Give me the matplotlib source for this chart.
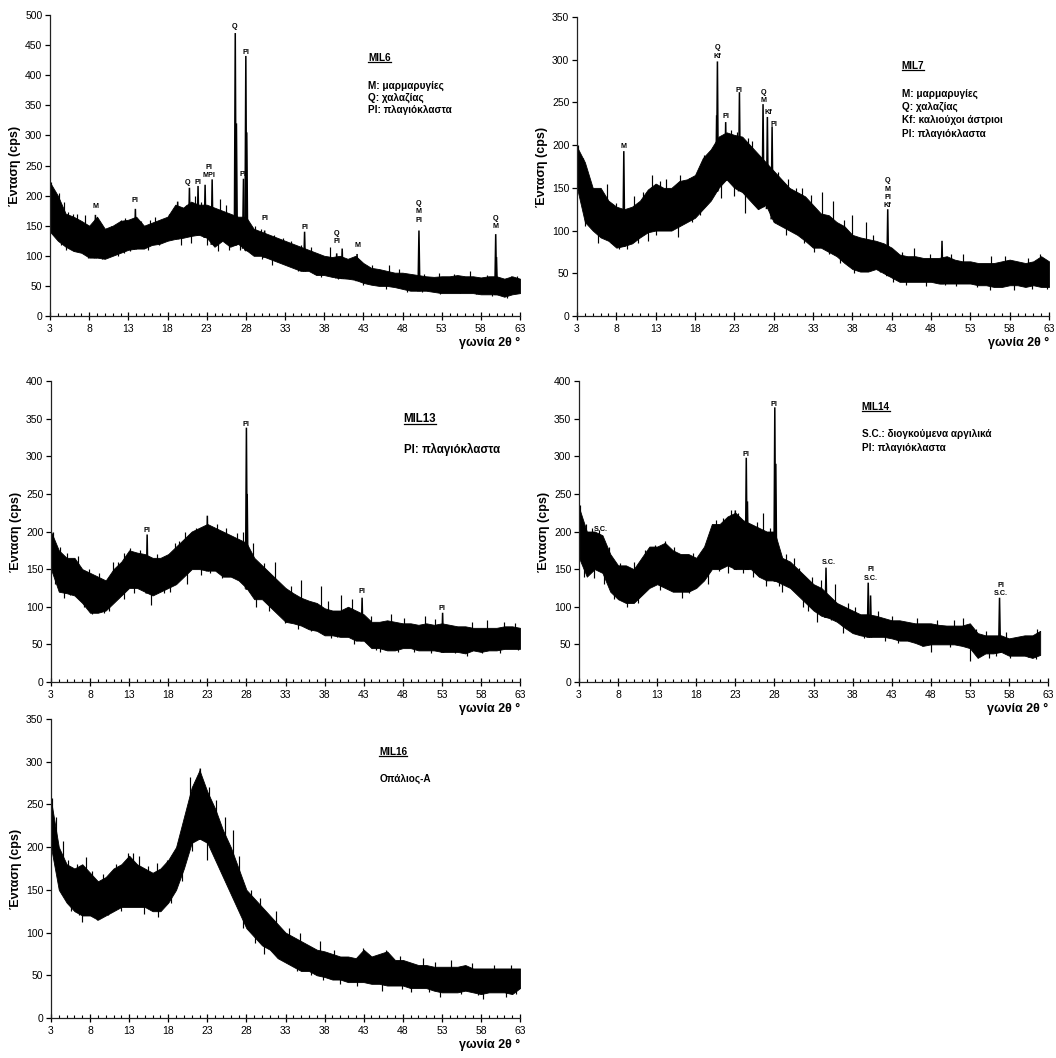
import numpy as np
import matplotlib
matplotlib.use("Agg")
import matplotlib.pyplot as plt
from matplotlib.ticker import MultipleLocator, FixedLocator
from matplotlib.lines import Line2D

plt.rcParams['font.family'] = ['Liberation Sans', 'DejaVu Sans']

# ---------------- DATA ----------------
# envelope of the noisy diffractogram band: x (2theta), upper and lower intensity (cps)
x_env = list(range(3, 64))

mil6_upper = [222, 200, 170, 165, 158, 150, 165, 145, 150, 158, 160, 165, 150, 155, 160, 165, 185, 180, 190, 185,
              185, 180, 175, 170, 165, 165, 145, 140, 135, 130, 125, 120, 115, 110, 105, 100, 98, 100, 95, 100,
              88, 80, 78, 75, 72, 72, 70, 68, 66, 65, 66, 66, 68, 66, 66, 64, 66, 66, 62, 66, 62]
mil6_lower = [140, 125, 115, 108, 105, 97, 97, 95, 100, 105, 110, 112, 112, 118, 120, 125, 128, 130, 133, 135,
              130, 115, 125, 115, 120, 110, 100, 100, 95, 90, 85, 80, 75, 75, 68, 68, 65, 63, 62, 60,
              55, 52, 50, 50, 48, 45, 42, 42, 42, 40, 38, 38, 38, 38, 38, 36, 36, 36, 32, 36, 38]
mil6_peak_x = [8.8, 13.9, 19.3, 20.8, 21.9, 22.8, 23.7, 26.65, 26.8, 27.7, 28.0, 28.12, 30.4, 35.5, 39.6, 40.3, 42.2, 50.1, 59.9, 60.0]
mil6_peak_y = [168, 178, 190, 213, 216, 218, 227, 470, 320, 228, 432, 305, 142, 140, 104, 112, 103, 142, 136, 98]
mil6_spike_x = [3.1, 3.6, 4.2, 4.8, 5.9, 6.4, 7.5, 10.8, 12.1, 12.6, 16.4, 17.2, 18.2, 21.5, 24.7, 25.5, 29.2,
                31.6, 33.8, 36.3, 38.8, 44.1, 46.3, 52.7, 56.6, 61.9,
                4.4, 6.1, 7.9, 9.6, 11.7, 13.2, 15.5, 19.7, 24.5, 25.9, 27.2, 31.3, 34.7, 37.6, 39.8, 45.9,
                48.6, 52.8, 57.4, 61.3,
                5.3, 9.2, 11.3, 14.6, 15.8, 20.3, 22.3, 29.9, 32.7, 35.1, 41.2, 47.5, 50.8, 54.6, 58.8, 62.6,
                5.1, 8.6, 12.4, 16.9, 21.0, 23.0, 28.6, 30.1, 33.2, 36.8, 42.9, 50.5, 55.3, 59.4, 62.4]
mil6_spike_y = [222, 205, 205, 190, 170, 170, 168, 150, 160, 162, 165, 160, 170, 200, 195, 185, 150,
                135, 125, 115, 115, 85, 85, 72, 75, 66,
                118, 108, 97, 95, 100, 108, 110, 118, 108, 110, 110, 85, 75, 65, 62, 45,
                40, 36, 36, 30,
                172, 158, 150, 158, 160, 185, 190, 145, 130, 118, 95, 78, 70, 70, 68, 66,
                110, 100, 105, 118, 122, 118, 105, 95, 85, 70, 52, 40, 38, 34, 38]
mil6_lab_x = [8.8, 13.9, 20.6, 21.9, 23.3, 26.6, 27.6, 28.0, 30.4, 35.5, 39.6, 42.2, 50.1, 59.9]
mil6_lab_y = [184, 195, 225, 225, 236, 483, 237, 440, 164, 150, 126, 119, 162, 151]
mil6_lab_t = ["M", "Pl", "Q", "Pl", "Pl\nMPl", "Q", "Pl", "Pl", "Pl", "Pl", "Q\nPl", "M", "Q\nM\nPl", "Q\nM"]

mil7_upper = [198, 180, 150, 150, 135, 128, 125, 128, 135, 148, 155, 150, 150, 158, 160, 165, 185, 195, 210, 215,
              212, 210, 200, 190, 180, 170, 160, 150, 145, 140, 130, 120, 118, 110, 105, 95, 92, 90, 88, 85,
              80, 72, 70, 70, 68, 68, 68, 70, 66, 64, 64, 62, 62, 62, 64, 66, 64, 62, 64, 70, 64]
mil7_lower = [150, 110, 100, 92, 88, 80, 82, 85, 92, 98, 100, 100, 100, 105, 110, 115, 125, 135, 150, 160,
              150, 145, 135, 125, 130, 110, 105, 100, 95, 88, 80, 80, 75, 70, 62, 55, 52, 52, 55, 50,
              45, 40, 40, 40, 40, 40, 38, 38, 38, 38, 38, 36, 36, 34, 34, 36, 36, 34, 36, 34, 34]
mil7_peak_x = [8.95, 20.75, 20.85, 21.9, 23.65, 26.65, 27.2, 27.8, 42.5, 49.4]
mil7_peak_y = [193, 235, 298, 227, 262, 248, 233, 222, 125, 88]
mil7_spike_x = [3.1, 4.4, 5.0, 6.8, 12.5, 14.3, 16.1, 19.1, 20.2, 23.4, 25.3, 29.8, 31.6, 34.1, 35.6, 37.9, 39.8,
                45.8, 52.1, 55.6, 61.8,
                5.7, 7.3, 8.3, 9.4, 12.0, 15.9, 17.6, 21.3, 24.3, 26.2, 29.6, 33.1, 36.4, 38.2, 41.5, 43.2,
                47.4, 51.2, 55.5, 58.5, 62.7,
                3.7, 7.9, 10.3, 11.4, 13.6, 17.3, 22.6, 24.8, 28.6, 30.9, 32.7, 36.9, 40.6, 44.3, 47.9, 50.6, 57.4, 60.3,
                4.0, 10.8, 13.1, 18.6, 22.9, 27.5, 31.9, 35.0, 39.2, 44.8, 49.8, 53.9, 60.9]
mil7_spike_y = [200, 155, 150, 155, 165, 160, 165, 188, 195, 215, 205, 160, 150, 145, 135, 118, 110,
                80, 72, 70, 72,
                85, 85, 78, 78, 88, 92, 110, 138, 120, 130, 95, 75, 62, 50, 52, 40,
                35, 35, 30, 30, 32,
                185, 132, 140, 145, 158, 162, 218, 208, 168, 150, 142, 112, 95, 75, 72, 72, 70, 68,
                105, 85, 95, 118, 140, 118, 85, 72, 55, 36, 36, 34, 32]
mil7_lab_x = [8.95, 20.85, 21.9, 23.6, 26.7, 27.3, 28.0, 42.5]
mil7_lab_y = [200, 306, 235, 266, 254, 240, 226, 131]
mil7_lab_t = ["M", "Q\nKf", "Pl", "Pl", "Q\nM", "Kf", "Pl", "Q\nM\nPl\nKf"]

mil13_upper = [200, 175, 165, 165, 150, 145, 140, 135, 150, 160, 175, 172, 170, 165, 165, 170, 180, 190, 200, 205,
               210, 205, 200, 195, 190, 185, 165, 155, 145, 135, 125, 118, 112, 108, 105, 98, 95, 95, 100, 95,
               90, 80, 80, 82, 80, 78, 78, 76, 78, 76, 78, 76, 74, 74, 72, 72, 72, 72, 74, 74, 72]
mil13_lower = [150, 120, 118, 115, 105, 92, 92, 95, 105, 115, 125, 125, 120, 115, 120, 125, 130, 140, 150, 150,
               148, 148, 140, 140, 135, 125, 110, 110, 100, 90, 80, 78, 75, 70, 68, 62, 62, 60, 60, 55,
               55, 45, 45, 42, 42, 45, 45, 42, 42, 42, 40, 40, 40, 38, 42, 40, 42, 42, 44, 44, 44]
mil13_peak_x = [15.3, 23.0, 28.0, 28.1, 42.8, 53.1]
mil13_peak_y = [196, 221, 338, 250, 112, 92]
mil13_spike_x = [3.2, 4.2, 6.4, 9.2, 11.6, 12.3, 14.4, 18.8, 20.2, 25.4, 27.6, 28.8, 31.6, 35.0, 37.6, 40.1, 41.5,
                 46.5, 50.8, 58.8, 62.3,
                 3.5, 5.4, 7.2, 8.3, 10.4, 13.6, 15.8, 17.5, 20.4, 23.3, 26.2, 29.2, 32.9, 36.2, 39.6, 41.8,
                 45.1, 49.5, 54.7, 56.2, 60.5,
                 5.0, 7.8, 10.9, 13.1, 16.6, 19.4, 21.6, 24.2, 26.8, 30.3, 33.7, 38.4, 43.9, 48.2, 52.1, 56.9, 60.9,
                 4.6, 9.8, 12.4, 18.2, 22.2, 24.9, 30.9, 34.6, 38.8, 44.6, 47.4, 51.6, 58.1, 62.8]
mil13_spike_y = [200, 180, 168, 145, 160, 172, 175, 185, 200, 205, 200, 185, 160, 135, 128, 115, 110,
                 90, 88, 82, 78,
                 130, 115, 100, 90, 95, 118, 102, 118, 130, 145, 140, 100, 78, 68, 60, 50,
                 40, 40, 38, 35, 38,
                 172, 150, 160, 178, 170, 188, 205, 210, 198, 158, 128, 108, 88, 85, 84, 80, 80,
                 112, 92, 110, 120, 142, 138, 95, 70, 58, 42, 40, 38, 38, 42]
mil13_lab_x = [15.3, 28.0, 42.8, 53.0]
mil13_lab_y = [204, 344, 122, 100]
mil13_lab_t = ["Pl", "Pl", "Pl", "Pl"]

x_env14 = list(range(3, 63))
mil14_upper = [232, 200, 200, 195, 170, 155, 155, 150, 165, 180, 180, 185, 175, 170, 170, 165, 180, 210, 210, 220,
               225, 215, 210, 205, 200, 200, 165, 160, 150, 140, 130, 125, 115, 105, 100, 95, 90, 90, 88, 85,
               82, 82, 80, 78, 78, 78, 76, 75, 75, 75, 78, 65, 62, 62, 62, 58, 60, 62, 62, 68]
mil14_lower = [165, 140, 150, 145, 120, 110, 105, 105, 115, 125, 130, 125, 120, 120, 120, 125, 135, 150, 150, 155,
               150, 150, 150, 140, 135, 135, 130, 125, 115, 105, 95, 88, 85, 80, 72, 65, 62, 60, 60, 60,
               58, 55, 55, 52, 48, 50, 50, 50, 50, 48, 45, 32, 38, 38, 40, 35, 35, 35, 32, 36]
mil14_peak_x = [23.0, 24.4, 24.55, 28.05, 28.18, 34.6, 40.0, 40.3, 56.8]
mil14_peak_y = [228, 298, 240, 365, 290, 152, 132, 115, 112]
mil14_spike_x = [3.1, 3.9, 4.7, 6.8, 10.1, 12.7, 14.0, 20.5, 22.5, 23.4, 26.6, 29.5, 30.5, 32.8, 35.8, 38.3, 41.2,
                 46.3, 51.0, 52.1, 53.8, 59.3, 61.6,
                 3.6, 4.9, 7.5, 9.1, 10.6, 16.2, 19.5, 22.0, 25.3, 26.9, 29.0, 31.6, 33.4, 36.8, 39.4, 43.8,
                 48.0, 53.0, 55.4, 58.2, 61.5,
                 5.6, 8.3, 11.5, 15.2, 17.6, 19.9, 21.4, 25.8, 27.4, 31.1, 34.0, 37.4, 43.1, 48.8, 55.1, 57.6,
                 6.2, 8.8, 13.3, 17.1, 20.9, 24.0, 28.6, 32.3, 35.3, 42.1, 46.9, 50.4, 56.3, 60.4]
mil14_spike_y = [235, 210, 205, 180, 160, 182, 187, 215, 228, 225, 225, 170, 165, 140, 130, 100, 95,
                 85, 82, 85, 70, 60, 70,
                 140, 138, 110, 100, 105, 112, 130, 145, 140, 128, 120, 100, 80, 65, 58, 52,
                 40, 28, 32, 32, 30,
                 202, 158, 175, 180, 172, 200, 218, 212, 205, 152, 135, 105, 88, 82, 68, 66,
                 130, 108, 122, 118, 148, 145, 128, 95, 82, 55, 48, 46, 34, 33]
mil14_lab_x = [5.8, 24.4, 28.0, 34.9, 40.3, 57.0]
mil14_lab_y = [205, 304, 371, 161, 140, 120]
mil14_lab_t = ["S.C.", "Pl", "Pl", "S.C.", "Pl\nS.C.", "Pl\nS.C."]

mil16_upper = [255, 200, 180, 175, 180, 170, 160, 165, 175, 180, 190, 180, 175, 170, 175, 185, 200, 235, 270, 290,
               265, 245, 220, 200, 175, 150, 140, 130, 120, 110, 100, 95, 90, 85, 80, 78, 75, 72, 72, 70,
               80, 72, 75, 78, 68, 68, 65, 62, 62, 60, 60, 60, 60, 62, 58, 58, 58, 58, 58, 58, 58]
mil16_lower = [200, 150, 135, 125, 120, 120, 115, 120, 125, 130, 130, 130, 130, 125, 125, 135, 150, 175, 205, 210,
               205, 185, 165, 145, 125, 105, 95, 85, 80, 70, 65, 60, 55, 55, 50, 48, 45, 45, 42, 42,
               42, 40, 40, 38, 38, 38, 35, 35, 35, 32, 30, 30, 30, 32, 30, 28, 30, 30, 30, 28, 35]
mil16_peak_x = [22.1]
mil16_peak_y = [292]
mil16_spike_x = [3.1, 3.7, 4.5, 6.3, 7.5, 11.3, 12.8, 13.5, 14.3, 16.5, 20.8, 21.6, 23.2, 24.1, 26.3, 28.6, 31.8,
                 34.9, 37.4, 42.9, 45.8, 50.6, 54.2, 59.7,
                 4.4, 5.5, 7.0, 8.9, 10.3, 16.7, 18.4, 21.0, 22.9, 27.5, 30.2, 32.3, 34.5, 37.8, 40.0, 45.3,
                 49.1, 52.8, 55.4, 58.3, 61.2,
                 5.2, 8.3, 9.6, 15.4, 17.8, 19.3, 25.2, 27.1, 29.7, 33.4, 39.2, 47.6, 52.1, 56.8, 61.8,
                 6.6, 11.9, 14.9, 19.8, 24.6, 29.1, 36.3, 42.2, 47.9, 51.3, 57.6, 62.5]
mil16_spike_y = [258, 235, 207, 180, 188, 180, 193, 193, 190, 182, 282, 270, 270, 255, 220, 150, 125,
                 100, 90, 82, 80, 70, 68, 62,
                 145, 125, 112, 115, 120, 118, 135, 195, 185, 105, 75, 70, 55, 45, 40, 32,
                 30, 25, 28, 22, 25,
                 185, 172, 168, 178, 185, 205, 235, 190, 140, 105, 80, 72, 66, 64, 62,
                 120, 125, 122, 160, 175, 88, 50, 38, 34, 30, 27, 28]

x_ticks = list(range(3, 64, 5))

panels = [
    dict(name="MIL6", pos=(50, 15, 520, 316), ymax=500, x=x_env, up=mil6_upper, lo=mil6_lower,
         px=mil6_peak_x, py=mil6_peak_y, sx=mil6_spike_x, sy=mil6_spike_y,
         lx=mil6_lab_x, ly=mil6_lab_y, lt=mil6_lab_t,
         tpos=(0.677, 0.858), lines=["M: μαρμαρυγίες", "Q: χαλαζίας", "Pl: πλαγιόκλαστα"],
         lpos=[0.766, 0.726, 0.686], fs=7.2),
    dict(name="MIL7", pos=(577, 17, 1049, 316), ymax=350, x=x_env, up=mil7_upper, lo=mil7_lower,
         px=mil7_peak_x, py=mil7_peak_y, sx=mil7_spike_x, sy=mil7_spike_y,
         lx=mil7_lab_x, ly=mil7_lab_y, lt=mil7_lab_t,
         tpos=(0.688, 0.837), lines=["M: μαρμαρυγίες", "Q: χαλαζίας", "Kf: καλιούχοι άστριοι", "Pl: πλαγιόκλαστα"],
         lpos=[0.743, 0.699, 0.654, 0.608], fs=7.2),
    dict(name="MIL13", pos=(51, 381, 520, 682), ymax=400, x=x_env, up=mil13_upper, lo=mil13_lower,
         px=mil13_peak_x, py=mil13_peak_y, sx=mil13_spike_x, sy=mil13_spike_y,
         lx=mil13_lab_x, ly=mil13_lab_y, lt=mil13_lab_t,
         tpos=(0.752, 0.875), lines=["Pl: πλαγιόκλαστα"], lpos=[0.773], fs=8.3),
    dict(name="MIL14", pos=(579, 381, 1048, 682), ymax=400, x=x_env14, up=mil14_upper, lo=mil14_lower,
         px=mil14_peak_x, py=mil14_peak_y, sx=mil14_spike_x, sy=mil14_spike_y,
         lx=mil14_lab_x, ly=mil14_lab_y, lt=mil14_lab_t,
         tpos=(0.603, 0.914), lines=["S.C.: διογκούμενα αργιλικά", "Pl: πλαγιόκλαστα"],
         lpos=[0.823, 0.776], fs=7.2),
    dict(name="MIL16", pos=(51, 719, 520, 1018), ymax=350, x=x_env, up=mil16_upper, lo=mil16_lower,
         px=mil16_peak_x, py=mil16_peak_y, sx=mil16_spike_x, sy=mil16_spike_y,
         lx=[], ly=[], lt=[],
         tpos=(0.70, 0.891), lines=["Οπάλιος-Α"], lpos=[0.80], fs=7.2),
]

W, H = 1056, 1058
fig = plt.figure(figsize=(W / 100, H / 100), dpi=100)

titles = []
for p in panels:
    l, t, r, b = p["pos"]
    ax = fig.add_axes([l / W, 1 - b / H, (r - l) / W, (b - t) / H])
    xs = np.array(p["x"], dtype=float)
    up = np.array(p["up"], dtype=float)
    lo = np.array(p["lo"], dtype=float)
    mid = (up + lo) / 2
    ax.fill_between(xs, lo, up, color='black', linewidth=0.6, edgecolor='black')
    # noise spikes sticking out of the band
    sx = np.array(p["sx"], dtype=float)
    sy = np.array(p["sy"], dtype=float)
    ax.vlines(sx, np.interp(sx, xs, mid), sy, color='black', lw=0.85)
    # sharp diffraction peaks
    for xp, yp in zip(p["px"], p["py"]):
        base = np.interp(xp, xs, lo)
        ax.plot([xp - 0.12, xp, xp + 0.12], [base, yp, base], color='black', lw=1.1, solid_joinstyle='miter')
    for xl, yl, tl in zip(p["lx"], p["ly"], p["lt"]):
        ax.annotate(tl, (xl, yl), xytext=(0, -2.2), textcoords='offset points', ha='center', va='baseline',
                    fontsize=5.2, fontweight='bold', linespacing=1.25)
    ax.set_xlim(3, 63)
    ax.set_ylim(0, p["ymax"])
    ax.spines['top'].set_visible(False)
    ax.spines['right'].set_visible(False)
    for s in ('left', 'bottom'):
        ax.spines[s].set_linewidth(0.9)
        ax.spines[s].set_color('#222222')
    ax.xaxis.set_major_locator(FixedLocator(x_ticks))
    ax.xaxis.set_minor_locator(MultipleLocator(1))
    ax.yaxis.set_major_locator(MultipleLocator(50))
    ax.tick_params(axis='x', which='major', direction='inout', length=6, width=0.9, labelsize=7.5, pad=3)
    ax.tick_params(axis='x', which='minor', direction='in', length=2.5, width=0.8)
    ax.tick_params(axis='y', which='major', direction='out', length=3.5, width=0.9, labelsize=7.5, pad=2)
    ax.set_ylabel("Ένταση (cps)", fontsize=9, fontweight='bold', labelpad=3)
    ax.set_xlabel("γωνία 2θ °", fontsize=9, fontweight='bold', loc='right', labelpad=2)
    tt = ax.text(p["tpos"][0], p["tpos"][1], p["name"], transform=ax.transAxes, fontsize=p["fs"],
                 fontweight='bold', ha='left', va='center')
    titles.append(tt)
    for ln, yy in zip(p["lines"], p["lpos"]):
        ax.text(p["tpos"][0], yy, ln, transform=ax.transAxes, fontsize=p["fs"], fontweight='bold',
                ha='left', va='center')

fig.canvas.draw()
for tt in titles:
    bb = tt.get_window_extent()
    y = (bb.y0 + 0.5) / H
    fig.add_artist(Line2D([bb.x0 / W, bb.x1 / W], [y, y], transform=fig.transFigure, color='black', lw=0.9))

fig.savefig("out.png", dpi=100)
